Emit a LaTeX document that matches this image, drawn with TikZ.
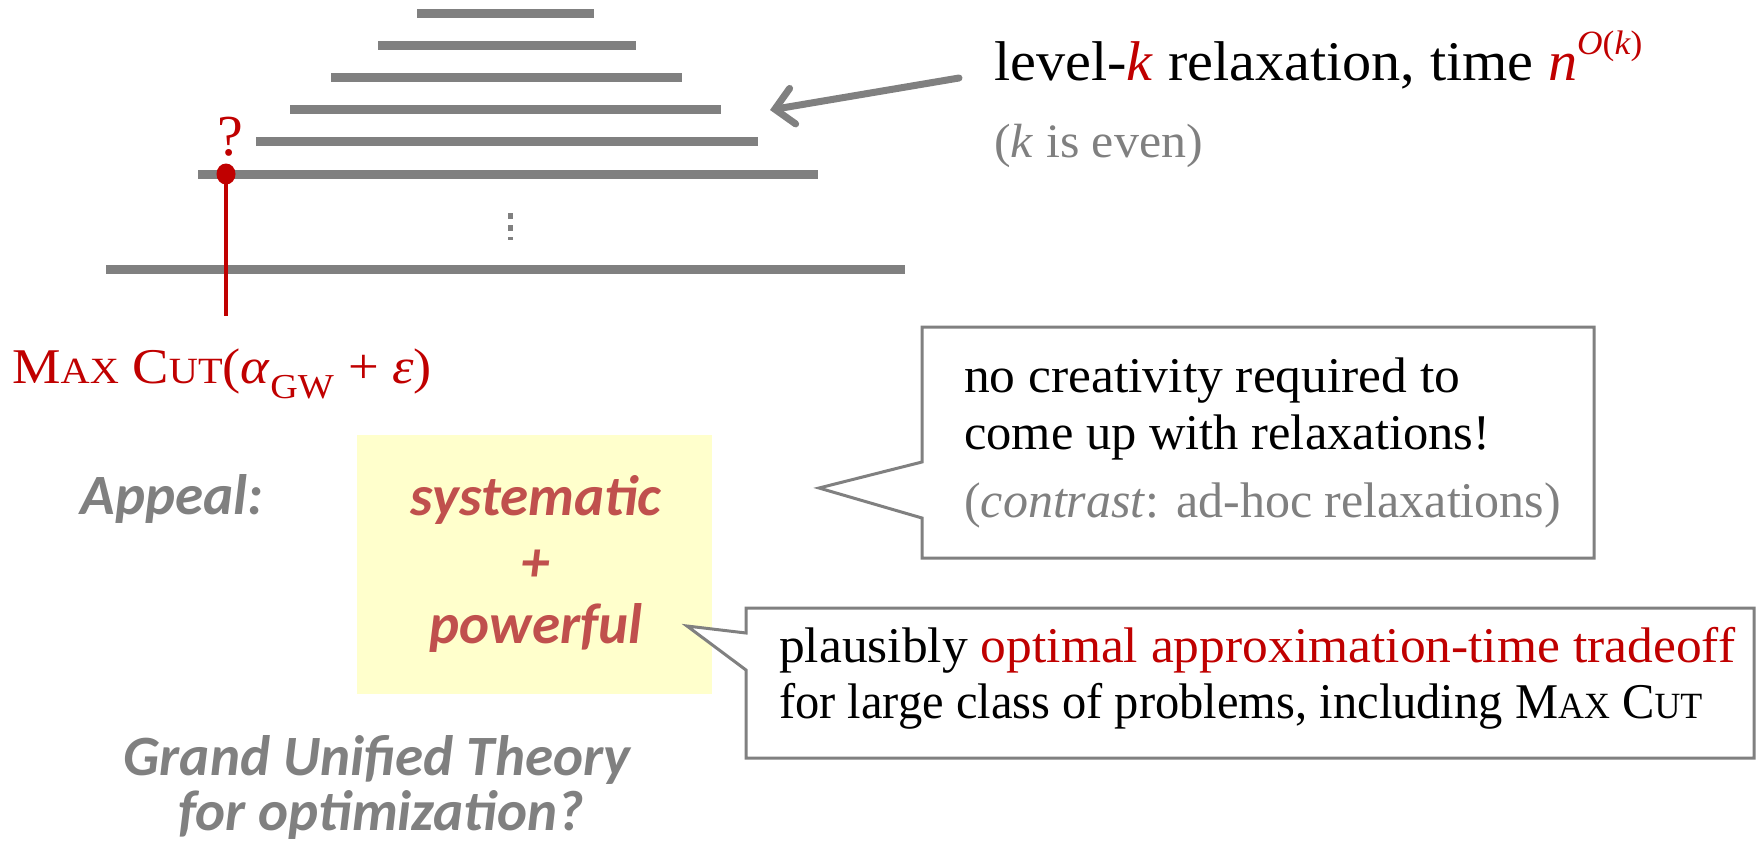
\documentclass[tikz,border=0pt]{standalone}
\usepackage{fontspec}
\usepackage{graphicx}
\setmainfont{Liberation Serif}
\newfontfamily\calib{Carlito}
\usetikzlibrary{arrows.meta}
\definecolor{dred}{HTML}{C00000}
\definecolor{lgray}{HTML}{808080}
\definecolor{ired}{HTML}{C0504D}
\definecolor{lyel}{HTML}{FFFFCC}
\newcommand{\fs}[1]{\fontsize{#1}{#1}\selectfont}
\newcommand{\smc}[1]{{\fontsize{37}{37}\selectfont #1}}
\newcommand{\hs}[2]{\scalebox{#1}[1]{#2}}
\begin{document}
\begin{tikzpicture}[x=1pt,y=-1pt,
  bar/.style={draw=lgray,line width=9pt},
  callout/.style={draw=lgray,fill=white,line width=3pt,line join=miter},
  txt/.style={inner sep=0pt,font=\fs{50}},
  appeal/.style={inner sep=0pt,font=\calib\bfseries\itshape\fs{57},text=ired},
  gtext/.style={inner sep=0pt,font=\calib\bfseries\itshape\fs{57},text=lgray}]
\useasboundingbox (0,0) rectangle (1758,844);
% levels
\draw[bar] (417,13.5) -- (594,13.5);
\draw[bar] (378,45) -- (636,45);
\draw[bar] (331,77) -- (682,77);
\draw[bar] (290,109) -- (721,109);
\draw[bar] (256,141) -- (758,141);
\draw[bar] (198,174) -- (818,174);
\draw[bar] (106,269) -- (905,269);
\draw[lgray,line width=5pt,dash pattern=on 6pt off 6pt] (510,213) -- (510,240);
% red marker
\coordinate (dot) at (226,174);
\coordinate (dotend) at (226,316);
\draw[dred,line width=3.5pt] (dot) -- (dotend);
\fill[dred] (dot) ellipse (9.5 and 10.5);
\node[txt,text=dred,font=\fs{58}] (q) at (230,137) {?};
\node[txt,text=dred,font=\fs{50},anchor=west] (maxcut) at (12,374)
  {\hs{1.09}{M\smc{AX} C\smc{UT}(\textit{α}\textsubscript{GW} + \textit{ε})}};
% level-k text
\node[txt,anchor=west,font=\fs{56}] (lvl) at (994,60)
  {\hs{1.04}{level-\textcolor{dred}{\textit{k}} relaxation, time \textcolor{dred}{\textit{n}\raisebox{0.45em}{\fs{34}\textit{O}(\textit{k})}}}};
\node[txt,anchor=west,text=lgray,font=\fs{48}] (even) at (994,146) {\hs{1.04}{(\textit{k} is even)}};
\coordinate (arrS) at (959,78);
\coordinate (arrE) at (770,110);
\draw[lgray,line width=7pt,line cap=round,-{Straight Barb[length=18pt,width=36pt,line cap=round]}] (arrS) -- (arrE);
% yellow box
\node[fill=lyel,minimum width=355pt,minimum height=259pt,inner sep=0pt] (yb) at (534,564) {};
\node[appeal] (sys) at (536,500) {systematic};
\node[appeal] (plus) at (536,566) {+};
\node[appeal] (pow) at (536,628) {powerful};
\node[gtext] (app) at (172,499) {Appeal:};
\node[gtext] (gut1) at (377,760) {Grand Unified Theory};
\node[gtext] (gut2) at (381,815) {for optimization?};
% callout 1
\draw[callout] (922,327) -- (1594,327) -- (1594,558) -- (922,558) -- (922,518) -- (819,488) -- (922,462) -- cycle;
\node[txt,anchor=west] (c1a) at (964,381) {\hs{1.03}{no creativity required to}};
\node[txt,anchor=west] (c1b) at (964,437) {\hs{1.01}{come up with relaxations!}};
\node[txt,anchor=west,text=lgray] (c1c) at (964,505) {(\textit{contrast}: ad-hoc relaxations)};
% callout 2
\draw[callout] (746,608) -- (1754,608) -- (1754,758) -- (746,758) -- (746,670) -- (687,626) -- (746,633) -- cycle;
\node[txt,anchor=west] (c2a) at (779,650) {\hs{1.03}{plausibly \textcolor{dred}{optimal approximation-time tradeoff}}};
\node[txt,anchor=west] (c2b) at (779,706) {\hs{0.97}{for large class of problems, including M\smc{AX} C\smc{UT}}};
\end{tikzpicture}
\end{document}
